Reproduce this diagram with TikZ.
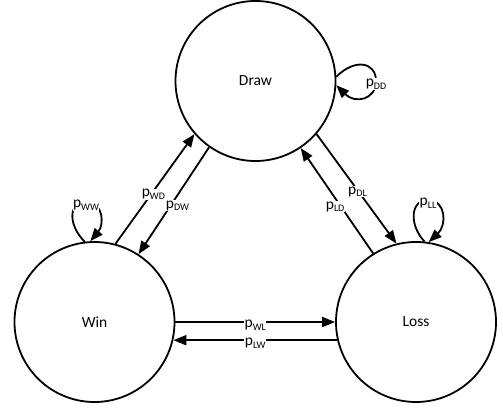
\documentclass[tikz,border=0pt]{standalone}
\usepackage{fontspec}
\setmainfont{Carlito}
\usetikzlibrary{arrows.meta}
\newcommand{\prob}[1]{p\raisebox{-2.5pt}{\fontsize{10}{10}\selectfont #1}}
\begin{document}
\begin{tikzpicture}[x=1pt,y=-1pt,
  state/.style={circle,draw,line width=1.8pt,minimum size=160pt,inner sep=0pt,font=\fontsize{15.5}{18}\selectfont},
  tr/.style={line width=1.8pt,-{Triangle[length=13pt,width=10pt]}},
  lbl/.style={fill=white,inner sep=0.5pt,yshift=-3pt,font=\fontsize{15.5}{18}\selectfont}]
\useasboundingbox (0,0) rectangle (503,414);
\node[state] (D) at (255.5,81) {Draw};
\node[state] (W) at (94.5,322) {Win};
\node[state] (L) at (416,322) {Loss};
% straight transitions
\draw[tr] (W.75.5) -- node[lbl,pos=0.48]{\prob{WD}} (D.221.8);
\draw[tr] (D.235.8) -- node[lbl,pos=0.52,xshift=5pt]{\prob{DW}} (W.57);
\draw[tr] (D.319.8) -- node[lbl,pos=0.5,xshift=1pt]{\prob{DL}} (L.104.9);
\draw[tr] (L.122.5) -- node[lbl,pos=0.47,xshift=-4pt]{\prob{LD}} (D.304.8);
\draw[tr] (W.east) -- node[lbl]{\prob{WL}} (L.west);
\draw[tr] (L.193.7) -- node[lbl]{\prob{LW}} (W.-13.7);
% self loops
\draw[tr] (D.3) .. controls (355,58) and (376,62) .. (376,81) node[lbl]{\prob{DD}}
  .. controls (376,100) and (355,104) .. (D.-3);
\draw[tr] (W.97) .. controls (68,225) and (68,202) .. (86,202) node[lbl]{\prob{WW}}
  .. controls (104,202) and (104,225) .. (W.93);
\draw[tr] (L.84) .. controls (409,225) and (410,200) .. (428,200) node[lbl]{\prob{LL}}
  .. controls (446,200) and (447,225) .. (L.81);
\end{tikzpicture}
\end{document}
